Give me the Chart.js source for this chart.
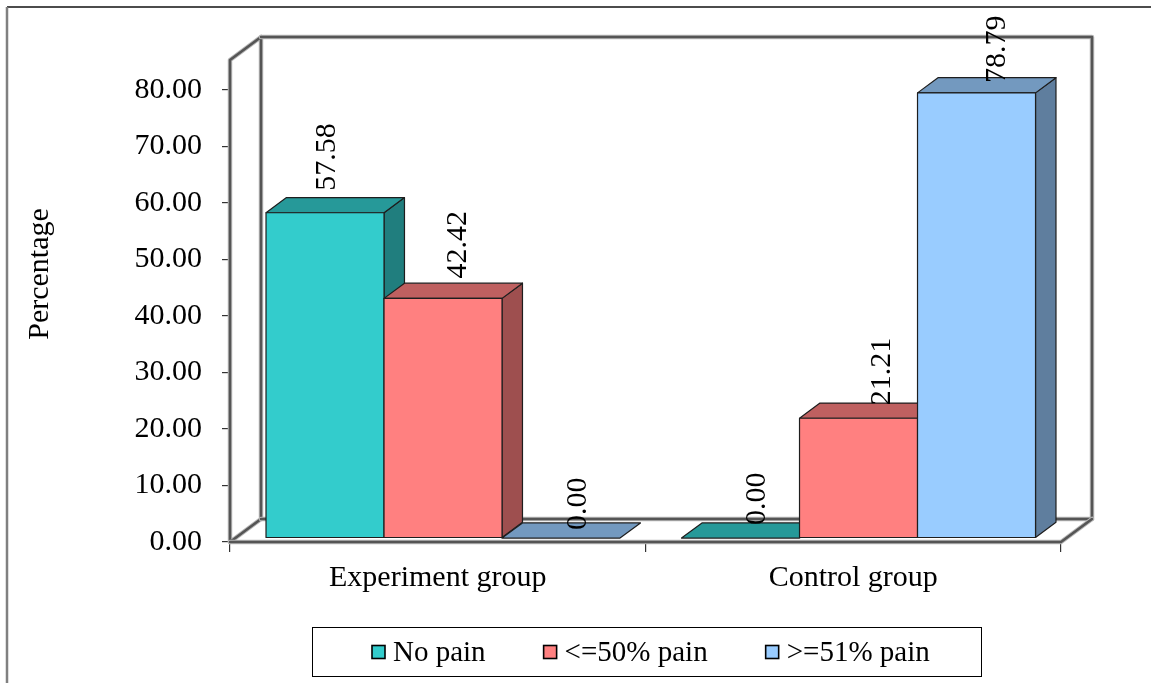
<!DOCTYPE html>
<html>
<head>
<meta charset="utf-8">
<script src="https://cdn.jsdelivr.net/npm/chart.js@4.4.1/dist/chart.umd.min.js"></script>
<style>
  html, body { margin: 0; padding: 0; background: #fff; overflow: hidden; }
  #wrap { width: 1151px; height: 683px; position: relative; }
</style>
</head>
<body>
<div id="wrap"><canvas id="c" width="1151" height="683"></canvas></div>
<script>
// Pain level by group (percent)
const groups = ['Experiment group', 'Control group'];
const seriesNames = ['No pain', '<=50% pain', '>=51% pain'];
const noPain = [57.58, 0.00];
const upTo50Pain = [42.42, 21.21];
const from51Pain = [0.00, 78.79];
const yTickValues = [0, 10, 20, 30, 40, 50, 60, 70, 80];

const faceColors = ['#33CCCC', '#FF8080', '#99CCFF'];
const SERIF = '"Liberation Serif", "Times New Roman", serif';

// 3D box geometry: depth vector of the plot box and the slab the bars occupy
const DEPTH = { x: 31, y: -23 };
const BAR_FRONT = 0.17, BAR_BACK = 0.83;

// Nudges for the rotated value labels: [series][category]
const labelNudge = [
  [{ dx: 2, gap: 22 }, { dx: 17, gap: 13 }],
  [{ dx: 15, gap: 20 }, { dx: 24, gap: 13 }],
  [{ dx: 17, gap: 8 }, { dx: 21, gap: 10 }]
];

function shade(hex, k) {
  const n = parseInt(hex.slice(1), 16);
  const r = Math.round(((n >> 16) & 255) * k);
  const g = Math.round(((n >> 8) & 255) * k);
  const b = Math.round((n & 255) * k);
  return `rgb(${r},${g},${b})`;
}

function poly(ctx, pts, fill, stroke, lw) {
  ctx.beginPath();
  ctx.moveTo(pts[0][0], pts[0][1]);
  for (let i = 1; i < pts.length; i++) ctx.lineTo(pts[i][0], pts[i][1]);
  ctx.closePath();
  if (fill) { ctx.fillStyle = fill; ctx.fill(); }
  if (stroke) { ctx.strokeStyle = stroke; ctx.lineWidth = lw || 1; ctx.stroke(); }
}

function wallLine(ctx, pts) {
  ctx.save();
  ctx.lineJoin = 'round';
  ctx.lineCap = 'round';
  [['#b8b8b8', 4.5], ['#555555', 2.5]].forEach(([c, w]) => {
    ctx.beginPath();
    ctx.moveTo(pts[0][0], pts[0][1]);
    for (let i = 1; i < pts.length; i++) ctx.lineTo(pts[i][0], pts[i][1]);
    ctx.strokeStyle = c;
    ctx.lineWidth = w;
    ctx.stroke();
  });
  ctx.restore();
}

const box3d = {
  id: 'box3d',
  beforeDraw(chart) {
    const ctx = chart.ctx;
    ctx.save();
    ctx.fillStyle = '#fff';
    ctx.fillRect(0, 0, chart.width, chart.height);
    // outer frame
    ctx.strokeStyle = '#111';
    ctx.lineWidth = 1.5;
    ctx.beginPath(); ctx.moveTo(7, 7); ctx.lineTo(chart.width, 7); ctx.stroke();
    ctx.strokeStyle = '#808080';
    ctx.lineWidth = 2.5;
    ctx.beginPath(); ctx.moveTo(7, 7); ctx.lineTo(7, chart.height); ctx.stroke();
    ctx.restore();
  },
  beforeDatasetsDraw(chart) {
    const ctx = chart.ctx;
    const { left: L, right: R, top: T, bottom: B } = chart.chartArea;
    const dx = DEPTH.x, dy = DEPTH.y;
    ctx.save();
    // walls and floor
    poly(ctx, [[L, B], [L, T], [L + dx, T + dy], [L + dx, B + dy]], '#fff');
    poly(ctx, [[L + dx, T + dy], [R + dx, T + dy], [R + dx, B + dy], [L + dx, B + dy]], '#fff');
    poly(ctx, [[L, B], [R, B], [R + dx, B + dy], [L + dx, B + dy]], '#fff');
    wallLine(ctx, [[L, B], [L, T], [L + dx, T + dy], [L + dx, B + dy], [L, B]]);
    wallLine(ctx, [[L + dx, T + dy], [R + dx, T + dy], [R + dx, B + dy], [L + dx, B + dy]]);
    wallLine(ctx, [[L, B], [R, B], [R + dx, B + dy]]);

    // bars: side, top, front for each element, left to right
    const fx = dx * BAR_FRONT, fy = dy * BAR_FRONT;
    const bx = dx * (BAR_BACK - BAR_FRONT), by = dy * (BAR_BACK - BAR_FRONT);
    ctx.lineJoin = 'round';
    const n = chart.data.labels.length;
    const labelJobs = [];
    for (let i = 0; i < n; i++) {
      chart.data.datasets.forEach((ds, di) => {
        const el = chart.getDatasetMeta(di).data[i];
        const col = faceColors[di];
        const x0 = el.x - el.width / 2 + fx, x1 = el.x + el.width / 2 + fx;
        const yt = el.y + fy, yb = el.base + fy;
        const edge = '#1e1e1e';
        if (yb - yt > 0.5) {
          poly(ctx, [[x1, yb], [x1, yt], [x1 + bx, yt + by], [x1 + bx, yb + by]], shade(col, 0.62), edge, 1.2);
        }
        poly(ctx, [[x0, yt], [x1, yt], [x1 + bx, yt + by], [x0 + bx, yt + by]], shade(col, 0.75), edge, 1.2);
        if (yb - yt > 0.5) {
          poly(ctx, [[x0, yt], [x1, yt], [x1, yb], [x0, yb]], col, edge, 1.2);
        }
        const nudge = labelNudge[di][i];
        labelJobs.push({ x: (x0 + x1) / 2 + nudge.dx, y: yt - nudge.gap, text: ds.data[i].toFixed(2) });
      });
    }
    // value labels, rotated
    ctx.fillStyle = '#000';
    ctx.font = '30px ' + SERIF;
    ctx.textAlign = 'left';
    ctx.textBaseline = 'middle';
    labelJobs.forEach(j => {
      ctx.save();
      ctx.translate(j.x, j.y);
      ctx.rotate(-Math.PI / 2);
      ctx.fillText(j.text, 0, 0);
      ctx.restore();
    });
    ctx.restore();
    return false;
  },
  afterDraw(chart) {
    const ctx = chart.ctx;
    ctx.save();
    // y axis title
    ctx.fillStyle = '#000';
    ctx.font = '30px ' + SERIF;
    ctx.textAlign = 'center';
    ctx.textBaseline = 'alphabetic';
    ctx.translate(48, 274);
    ctx.rotate(-Math.PI / 2);
    ctx.fillText('Percentage', 0, 0);
    ctx.restore();

    // legend
    ctx.save();
    ctx.strokeStyle = '#000';
    ctx.lineWidth = 1;
    ctx.strokeRect(312.5, 627.5, 669, 49);
    ctx.font = '29px ' + SERIF;
    ctx.textAlign = 'left';
    ctx.textBaseline = 'middle';
    let x = 372;
    const cy = 652;
    chart.data.datasets.forEach((ds, di) => {
      ctx.fillStyle = faceColors[di];
      ctx.fillRect(x, cy - 6.5, 13, 13);
      ctx.strokeStyle = '#000';
      ctx.lineWidth = 1.6;
      ctx.strokeRect(x, cy - 6.5, 13, 13);
      ctx.fillStyle = '#000';
      ctx.fillText(ds.label, x + 21, cy + 1);
      x += 21 + ctx.measureText(ds.label).width + 58;
    });
    ctx.restore();
  }
};

new Chart(document.getElementById('c'), {
  type: 'bar',
  data: {
    labels: groups,
    datasets: [
      { label: seriesNames[0], data: noPain, backgroundColor: faceColors[0] },
      { label: seriesNames[1], data: upTo50Pain, backgroundColor: faceColors[1] },
      { label: seriesNames[2], data: from51Pain, backgroundColor: faceColors[2] }
    ]
  },
  options: {
    responsive: false,
    animation: false,
    devicePixelRatio: 1,
    layout: { padding: { left: 0, right: 90, top: 60, bottom: 56 } },
    datasets: { bar: { categoryPercentage: 0.852, barPercentage: 1 } },
    plugins: { legend: { display: false }, tooltip: { enabled: false } },
    scales: {
      x: {
        grid: { offset: true, drawOnChartArea: false, drawTicks: true, tickLength: 10, color: '#333', lineWidth: 1.2 },
        border: { display: false },
        ticks: { color: '#000', font: { family: SERIF, size: 30 }, padding: 8, maxRotation: 0 },
        afterFit(s) { s.height = 85; }
      },
      y: {
        min: 0,
        max: 85.3,
        afterBuildTicks(s) { s.ticks = yTickValues.map(v => ({ value: v })); },
        grid: { drawOnChartArea: false, drawTicks: true, tickLength: 8, color: '#333', lineWidth: 1.2 },
        border: { display: false },
        ticks: { color: '#000', font: { family: SERIF, size: 30 }, padding: 20, callback: v => Number(v).toFixed(2) },
        afterFit(s) { s.width = 230; }
      }
    }
  },
  plugins: [box3d]
});
</script>
</body>
</html>
